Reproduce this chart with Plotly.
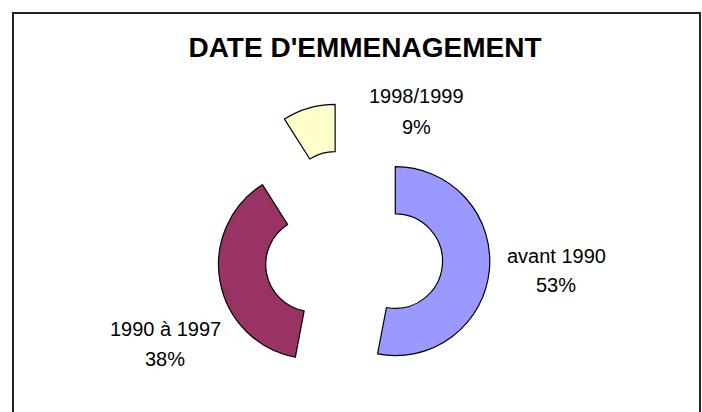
import plotly.graph_objects as go

# Données
periodes = ['avant 1990', '1990 à 1997', '1998/1999']
valeurs = [53, 38, 9]
couleurs = ['#9999FF', '#993366', '#FFFFCC']

titre = "DATE D'EMMENAGEMENT"
FONT = 'Arial, Liberation Sans, sans-serif'

W, H = 702, 412

fig = go.Figure(go.Pie(
    labels=periodes,
    values=valeurs,
    hole=0.5,
    pull=[0.46, 0.42, 0.64],
    sort=False,
    direction='clockwise',
    rotation=0,
    textinfo='none',
    marker=dict(colors=couleurs, line=dict(color='#000000', width=1.2)),
    domain=dict(x=[197 / W, 507 / W], y=[0, 310 / H]),
    showlegend=False,
    hovertemplate='%{label}<br>%{percent}<extra></extra>',
))

# étiquettes : (x centre, y ligne 1, y ligne 2) en pixels depuis le haut
positions = {
    'avant 1990': (556, 256, 285),
    '1990 à 1997': (165, 329, 359),
    '1998/1999': (416, 96, 127),
}
total = sum(valeurs)
for nom, val in zip(periodes, valeurs):
    cx, y1, y2 = positions[nom]
    pct = f'{round(val / total * 100)}%'
    for txt, yy in ((nom, y1), (pct, y2)):
        fig.add_annotation(
            x=cx / W, y=1 - yy / H, xref='paper', yref='paper',
            text=txt, showarrow=False, xanchor='center', yanchor='middle',
            font=dict(family=FONT, size=20, color='#000000'),
        )

# cadre du graphique
fig.add_shape(
    type='rect', xref='paper', yref='paper',
    x0=13 / W, x1=700 / W, y0=-0.1, y1=1 - 13 / H,
    line=dict(color='#222222', width=2), fillcolor='rgba(0,0,0,0)',
)

fig.update_layout(
    width=W, height=H,
    title=dict(
        text=titre, x=365 / W, y=1 - 47 / H, xanchor='center', yanchor='middle',
        font=dict(family=FONT, size=28, color='#000000', weight='bold'),
    ),
    margin=dict(l=0, r=0, t=0, b=0),
    paper_bgcolor='#FFFFFF',
    plot_bgcolor='#FFFFFF',
)

fig.write_html('out.html', config={'displayModeBar': False},
               post_script="document.body.style.margin='0px';")
